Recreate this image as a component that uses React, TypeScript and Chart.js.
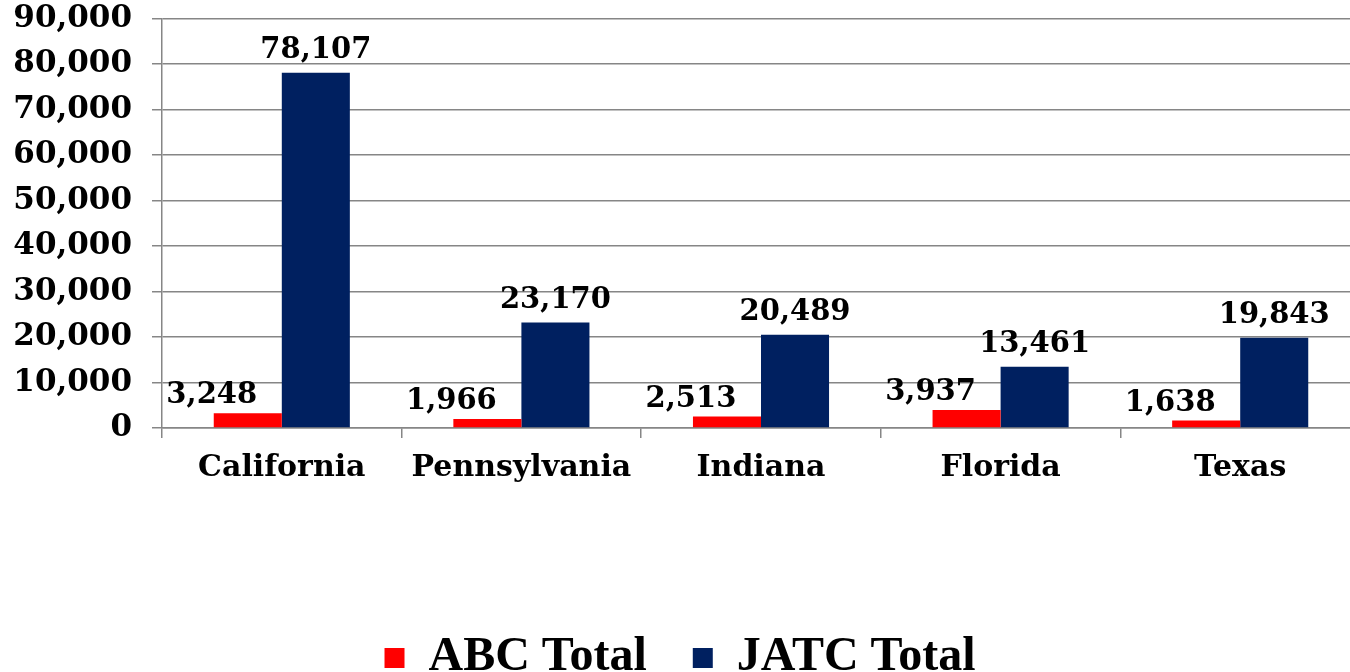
import React, { useEffect, useRef } from "react";
import { Chart, registerables } from "chart.js";

Chart.register(...registerables);

const categories = ["California", "Pennsylvania", "Indiana", "Florida", "Texas"];
const abcTotal = [3248, 1966, 2513, 3937, 1638];
const jatcTotal = [78107, 23170, 20489, 13461, 19843];
const seriesNames = ["ABC Total", "JATC Total"];
const yTicks = [0, 10000, 20000, 30000, 40000, 50000, 60000, 70000, 80000, 90000];

const SERIF = "'DejaVu Serif', Georgia, serif";

const dataLabels = {
  id: "dataLabels",
  afterDatasetsDraw(chart: any) {
    const ctx = chart.ctx;
    ctx.save();
    ctx.font = `bold 29px ${SERIF}`;
    ctx.fillStyle = "#000";
    ctx.textAlign = "center";
    ctx.textBaseline = "alphabetic";
    chart.data.datasets.forEach((ds: any, di: number) => {
      const meta = chart.getDatasetMeta(di);
      meta.data.forEach((el: any, i: number) => {
        const v = ds.data[i] as number;
        const txt = v.toLocaleString("en-US");
        const dx = di === 0 ? -36 : 0;
        const dy = di === 0 ? 10 : 15;
        ctx.fillText(txt, el.x + dx, el.y - dy);
      });
    });
    ctx.restore();
  },
};

export default function App() {
  const ref = useRef<HTMLCanvasElement | null>(null);
  useEffect(() => {
    if (!ref.current) return;
    const chart = new Chart(ref.current, {
      type: "bar",
      data: {
        labels: categories,
        datasets: [
          {
            label: seriesNames[0],
            data: abcTotal,
            backgroundColor: "#FF0000",
            barPercentage: 1,
            categoryPercentage: 0.568,
          },
          {
            label: seriesNames[1],
            data: jatcTotal,
            backgroundColor: "#002060",
            barPercentage: 1,
            categoryPercentage: 0.568,
          },
        ],
      },
      options: {
        responsive: false,
        maintainAspectRatio: false,
        animation: false,
        layout: { padding: { top: 0, right: 0, bottom: -20, left: 0 } },
        plugins: {
          tooltip: { enabled: false },
          legend: {
            position: "bottom",
            labels: {
              color: "#000",
              boxWidth: 20,
              boxHeight: 20,
              padding: 46,
              font: { family: "'Liberation Serif', 'Times New Roman', serif", size: 48, weight: "bold" },
            },
          },
        },
        scales: {
          x: {
            afterFit: (axis: any) => {
              axis.height = 160;
            },
            grid: {
              offset: true,
              drawOnChartArea: false,
              drawTicks: true,
              tickLength: 10,
              color: "#868686",
              lineWidth: 1.5,
            },
            border: { display: true, color: "#868686", width: 1.5 },
            ticks: {
              color: "#000",
              padding: 12,
              font: { family: SERIF, size: 30, weight: "bold" },
            },
          },
          y: {
            min: 0,
            max: 90000,
            afterFit: (axis: any) => {
              axis.width = 162;
            },
            afterBuildTicks: (axis: any) => {
              axis.ticks = yTicks.map((v) => ({ value: v }));
            },
            grid: {
              color: "#868686",
              lineWidth: 1.5,
              tickLength: 10,
            },
            border: { display: true, color: "#868686", width: 1.5 },
            ticks: {
              color: "#000",
              padding: 20,
              font: { family: SERIF, size: 31, weight: "bold" },
              callback: (v: any) => Number(v).toLocaleString("en-US"),
            },
          },
        },
      },
      plugins: [dataLabels],
    });
    return () => chart.destroy();
  }, []);
  return (
    <div
      style={{
        position: "fixed",
        left: 0,
        top: 0,
        width: 1350,
        height: 672,
        overflow: "hidden",
        background: "#fff",
      }}
    >
      <canvas
        ref={ref}
        width={1360}
        height={692}
        style={{ position: "absolute", left: 0, top: -20, width: 1360, height: 692, display: "block" }}
      />
    </div>
  );
}
